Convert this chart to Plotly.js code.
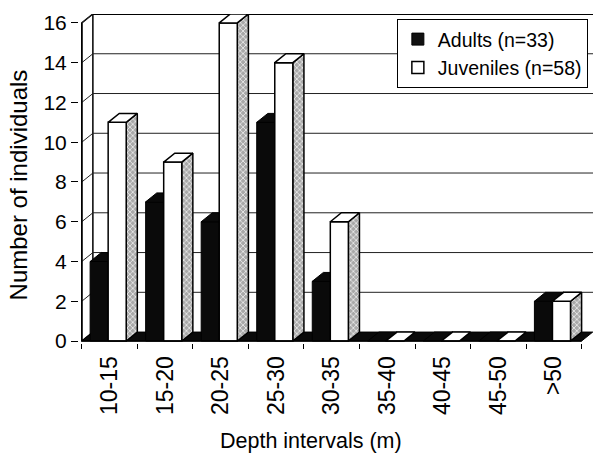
<!DOCTYPE html>
<html>
<head>
<meta charset="utf-8">
<script src="https://cdn.plot.ly/plotly-3.0.1.min.js"></script>
<style>html,body{margin:0;padding:0;background:#fff;}#chart{width:594px;height:455px;}</style>
</head>
<body>
<div id="chart"></div>
<script>
// ---- data ----
const categories = ['10-15', '15-20', '20-25', '25-30', '30-35', '35-40', '40-45', '45-50', '>50'];
const adults = [4, 7, 6, 11, 3, 0, 0, 0, 2];
const juveniles = [11, 9, 16, 14, 6, 0, 0, 0, 2];
const yTicks = [0, 2, 4, 6, 8, 10, 12, 14, 16];
const adultsName = 'Adults (n=33)';
const juvenilesName = 'Juveniles (n=58)';
const xTitle = 'Depth intervals (m)';
const yTitle = 'Number of individuals';

// ---- 3D-look geometry (styling, in axis units) ----
const DX = 0.2, DY = 0.45;           // depth offset
const BAR_START = -0.35, BAR_W = 0.325;
const N = categories.length;
const YMAX = yTicks[yTicks.length - 1];
const FONT = 'Liberation Sans, Arial, sans-serif';

function addPoly(acc, pts) {
  pts.forEach(p => { acc.x.push(p[0]); acc.y.push(p[1]); });
  acc.x.push(pts[0][0]); acc.y.push(pts[0][1]);
  acc.x.push(null); acc.y.push(null);
}
function frontFace(x0, x1, v) { return [[x0, 0], [x1, 0], [x1, v], [x0, v]]; }
function topFace(x0, x1, v) { return [[x0, v], [x1, v], [x1 + DX, v + DY], [x0 + DX, v + DY]]; }
function sideFace(x1, v) { return [[x1, 0], [x1, v], [x1 + DX, v + DY], [x1 + DX, DY]]; }

const leftWall = {x: [], y: []};
addPoly(leftWall, [[-0.5, 0], [-0.5, YMAX], [-0.5 + DX, YMAX + DY], [-0.5 + DX, DY]]);

const grid = {x: [], y: []};
yTicks.forEach(v => {
  if (v === 0) return;
  grid.x.push(-0.5, -0.5 + DX, N - 0.5 + DX + 0.5, null);
  grid.y.push(v, v + DY, v + DY, null);
});

const floorPoly = {x: [], y: []};
addPoly(floorPoly, [[-0.5, 0], [N - 0.5, 0], [N - 0.5 + DX, DY], [-0.5 + DX, DY]]);

const aSide = {x: [], y: []}, aFront = {x: [], y: []}, aTop = {x: [], y: []};
const jSide = {x: [], y: []}, jFront = {x: [], y: []}, jTop = {x: [], y: []};
categories.forEach((c, i) => {
  const a0 = i + BAR_START, a1 = a0 + BAR_W;
  const j0 = a1, j1 = j0 + BAR_W;
  addPoly(aSide, sideFace(a1, adults[i]));
  if (adults[i] > 0) addPoly(aFront, frontFace(a0, a1, adults[i]));
  addPoly(aTop, topFace(a0, a1, adults[i]));
  if (juveniles[i] > 0) addPoly(jSide, sideFace(j1, juveniles[i]));
  if (juveniles[i] > 0) addPoly(jFront, frontFace(j0, j1, juveniles[i]));
  addPoly(jTop, topFace(j0, j1, juveniles[i]));
});

const axisLines = {x: [-0.5, -0.5, N - 0.5], y: [YMAX, 0, 0]};
const topEdge = {x: [-0.5 + DX, N - 0.5 + DX + 0.5], y: [YMAX + DY, YMAX + DY]};

function fillTrace(d, fill, line, extra) {
  return Object.assign({
    type: 'scatter', mode: 'lines', x: d.x, y: d.y, fill: 'toself',
    fillcolor: fill, line: {color: line, width: 1}, showlegend: false, hoverinfo: 'skip'
  }, extra || {});
}

const traces = [
  fillTrace(leftWall, '#ffffff', '#000000', {line: {color: '#000', width: 1.5}}),
  {type: 'scatter', mode: 'lines', x: grid.x, y: grid.y, line: {color: '#222', width: 1}, showlegend: false, hoverinfo: 'skip'},
  {type: 'scatter', mode: 'lines', x: topEdge.x, y: topEdge.y, line: {color: '#000', width: 2}, showlegend: false, hoverinfo: 'skip'},
  fillTrace(floorPoly, '#0a0a0a', '#000000'),
  fillTrace(aSide, '#0a0a0a', '#000000'),
  fillTrace(aFront, '#0a0a0a', '#000000'),
  fillTrace(aTop, '#0a0a0a', '#000000'),
  fillTrace(jSide, '#a0a0a0', '#000000', {fillpattern: {shape: 'x', bgcolor: '#a8a8a8', fgcolor: '#ffffff', size: 4, solidity: 0.3}, line: {color: '#000', width: 1.5}}),
  fillTrace(jFront, '#ffffff', '#000000', {line: {color: '#000', width: 1.5}}),
  fillTrace(jTop, '#ffffff', '#000000', {line: {color: '#000', width: 1.5}}),
  {type: 'scatter', mode: 'lines', x: axisLines.x, y: axisLines.y, line: {color: '#000', width: 1.5}, showlegend: false, hoverinfo: 'skip'},
  {type: 'scatter', mode: 'markers', x: [null], y: [null], name: adultsName,
   marker: {symbol: 'square', size: 12, color: '#111', line: {color: '#000', width: 1}}},
  {type: 'scatter', mode: 'markers', x: [null], y: [null], name: juvenilesName,
   marker: {symbol: 'square', size: 12, color: '#fff', line: {color: '#000', width: 1.5}}}
];

const layout = {
  width: 594, height: 455,
  margin: {l: 79, r: 1, t: 14, b: 112},
  paper_bgcolor: '#fff', plot_bgcolor: '#fff',
  font: {family: FONT, color: '#000'},
  showlegend: true,
  legend: {
    x: 0.99, xanchor: 'right', y: 0.985, yanchor: 'top',
    bgcolor: '#fff', bordercolor: '#000', borderwidth: 1,
    font: {family: FONT, size: 19.5, color: '#000'},
    itemwidth: 30, tracegroupgap: 0
  },
  xaxis: {
    range: [-0.55, N - 0.5 + DX + 0.005],
    tickmode: 'array', tickvals: categories.map((c, i) => i), ticktext: categories,
    tickangle: -90, ticks: 'outside', ticklen: 3, tickcolor: 'rgba(0,0,0,0)',
    tickfont: {family: FONT, size: 23, color: '#000'},
    minor: {tickmode: 'linear', tick0: -0.5, dtick: 1, ticks: 'outside', ticklen: 5, tickcolor: '#000', tickwidth: 1, showgrid: false},
    showgrid: false, zeroline: false, showline: false, fixedrange: true
  },
  yaxis: {
    range: [-0.1, YMAX + DY],
    tickmode: 'array', tickvals: yTicks,
    ticks: 'outside', ticklen: 7, tickcolor: '#000', tickwidth: 1,
    tickfont: {family: FONT, size: 21, color: '#000'},
    showgrid: false, zeroline: false, showline: false, fixedrange: true
  },
  annotations: [
    {text: xTitle, xref: 'paper', yref: 'paper', x: (311 - 79) / 514, y: -0.297, xanchor: 'center', yanchor: 'middle',
     showarrow: false, font: {family: FONT, size: 21.5, color: '#000'}},
    {text: yTitle, xref: 'paper', yref: 'paper', x: -0.118, y: 0.48, xanchor: 'center', yanchor: 'middle', textangle: -90,
     showarrow: false, font: {family: FONT, size: 24, color: '#000'}}
  ]
};

Plotly.newPlot('chart', traces, layout, {staticPlot: true, displayModeBar: false});
</script>
</body>
</html>
